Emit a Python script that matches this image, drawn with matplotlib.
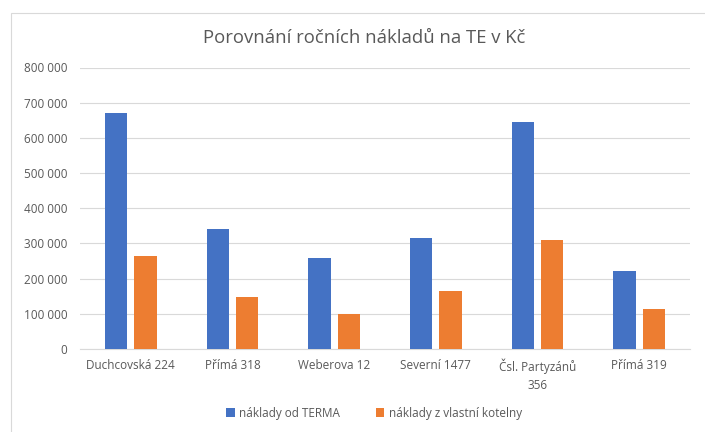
import matplotlib

matplotlib.use("Agg")
import matplotlib.pyplot as plt
import numpy as np
from matplotlib.patches import Rectangle

plt.rcParams.update({
    "font.family": ["Open Sans", "DejaVu Sans"],
    "font.size": 8.5,
})

categories = ["Duchcovská 224", "Přímá 318", "Weberova 12", "Severní 1477",
              "Čsl. Partyzánů\n356", "Přímá 319"]
terma = [671000, 341000, 258000, 316000, 646000, 222000]
kotelna = [265000, 147000, 100000, 164000, 311000, 114000]
series_names = ["náklady od TERMA", "náklady z vlastní kotelny"]
yticks = np.arange(0, 800001, 100000)

BLUE = "#4472C4"
ORANGE = "#ED7D31"
TXT = "#595959"

fig = plt.figure(figsize=(7.05, 4.32), dpi=100)
fig.patches.append(Rectangle((11 / 705, -0.1), 1.2, 1 - 13 / 432 + 0.1,
                             transform=fig.transFigure, fill=False,
                             edgecolor="#D9D9D9", lw=0.8))
ax = fig.add_axes([80 / 705, 1 - 349 / 432, 610 / 705, (349 - 67.5) / 432])

x = np.arange(len(categories))
w = 0.22
ax.bar(x - 0.145, terma, w, color=BLUE, label=series_names[0], zorder=3)
ax.bar(x + 0.145, kotelna, w, color=ORANGE, label=series_names[1], zorder=3)

ax.set_xlim(-0.5, len(categories) - 0.5)
ax.set_ylim(0, 800000)
ax.set_yticks(yticks)
ax.set_yticklabels([f"{v:,}".replace(",", " ") for v in yticks])
ax.set_xticks(x)
ax.set_xticklabels(categories, linespacing=1.5)
ax.tick_params(length=0, colors=TXT, labelsize=8.5)
ax.tick_params(axis="y", pad=9)
ax.tick_params(axis="x", pad=7)
ax.grid(True, axis="y", color="#D9D9D9", lw=0.8, zorder=0)
for s in ["top", "right", "left"]:
    ax.spines[s].set_visible(False)
ax.spines["bottom"].set_color("#D9D9D9")

fig.text(364 / 705, 1 - 38 / 432, "Porovnání ročních nákladů na TE v Kč",
         ha="center", va="center", fontsize=13.3, color=TXT)

fig.legend(loc="center", bbox_to_anchor=(374 / 705, 1 - 413 / 432), ncol=2,
           frameon=False, fontsize=8.5, handlelength=0.7, handleheight=0.7,
           handletextpad=0.4, columnspacing=3.0, labelcolor=TXT)

fig.savefig("out.png", dpi=100)
